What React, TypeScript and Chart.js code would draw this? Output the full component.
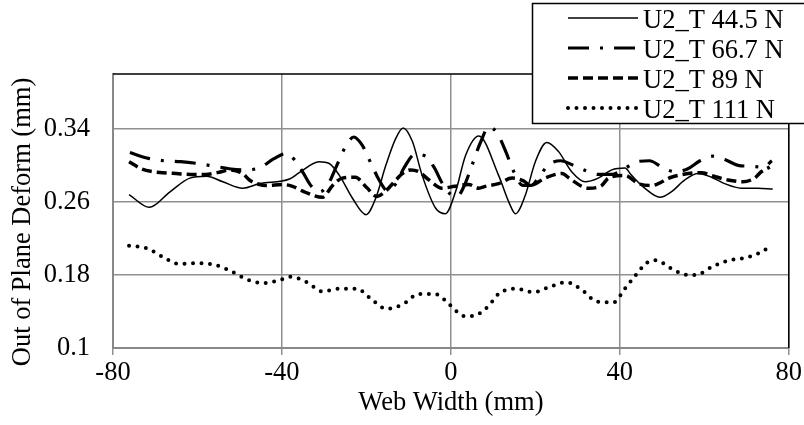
import { useEffect, useRef } from "react";
import { Chart, registerables } from "chart.js";

Chart.register(...registerables);

const seriesLabels = ["U2_T 44.5 N", "U2_T 66.7 N", "U2_T 89 N", "U2_T 111 N"];
const xAxisTitle = "Web Width (mm)";
const yAxisTitle = "Out of Plane Deform (mm)";

const x445 = [-76.2, -71.4, -66.5, -61.8, -57.9, -54, -49.3, -45.3, -38.2, -35.9, -31.2, -28.8, -26.4, -23.3, -20.1, -17.8, -15.4, -13.1, -11.3, -9.1, -6.8, -3.6, -1.3, 1.1, 3.5, 6.6, 11.3, 13.7, 15.3, 17.6, 20, 22.7, 25.5, 28.6, 31.8, 34.9, 38.1, 41.2, 42.8, 45.9, 49.5, 52.2, 55.4, 58.5, 61.7, 64.8, 68.7, 72.7, 76.2];
const y445 = [0.268, 0.254, 0.271, 0.286, 0.288, 0.282, 0.275, 0.28, 0.285, 0.292, 0.304, 0.302, 0.289, 0.264, 0.246, 0.264, 0.3, 0.329, 0.341, 0.326, 0.289, 0.253, 0.247, 0.271, 0.311, 0.332, 0.289, 0.26, 0.247, 0.267, 0.304, 0.325, 0.315, 0.293, 0.282, 0.286, 0.295, 0.297, 0.289, 0.275, 0.265, 0.271, 0.284, 0.291, 0.287, 0.28, 0.275, 0.275, 0.274];

const x667 = [-76, -72, -68, -64, -60, -56, -52, -48, -45, -42, -39, -37, -35, -33, -31, -29, -27, -25, -23, -21, -19, -17, -15, -13, -11, -8.5, -6, -4, -2, 0, 1.5, 3, 5, 7, 9, 11, 13, 15, 17, 19, 21, 23, 26, 29, 32, 35, 38, 41, 44, 47, 50, 53, 56, 59, 62, 65, 68, 71, 74, 76];
const y667 = [0.314, 0.308, 0.305, 0.304, 0.302, 0.299, 0.296, 0.295, 0.298, 0.307, 0.313, 0.306, 0.292, 0.277, 0.271, 0.28, 0.3, 0.32, 0.331, 0.322, 0.303, 0.284, 0.272, 0.28, 0.298, 0.312, 0.31, 0.298, 0.28, 0.268, 0.266, 0.276, 0.3, 0.325, 0.342, 0.335, 0.315, 0.292, 0.278, 0.278, 0.288, 0.3, 0.305, 0.3, 0.294, 0.29, 0.29, 0.296, 0.304, 0.305, 0.298, 0.293, 0.296, 0.305, 0.31, 0.306, 0.3, 0.299, 0.298, 0.305];

const x89 = [-76.2, -73.2, -70.6, -68.3, -65, -61.5, -58, -55.3, -52.2, -49.3, -47.7, -45.3, -43.7, -39.8, -37.5, -34.7, -30.4, -28, -25.7, -22.6, -20, -17.5, -15.4, -13, -11.5, -9.5, -7.6, -5.2, -2.1, 0.9, 4.2, 6.6, 8.2, 11.3, 14.5, 17.2, 18.8, 22.3, 26.3, 28, 31, 32.6, 35.7, 37.3, 41.2, 44.4, 47.5, 52.2, 56.2, 59.3, 62.3, 65.6, 69.1, 71.9, 73.5, 75.5];
const y89 = [0.304, 0.296, 0.293, 0.292, 0.291, 0.29, 0.29, 0.292, 0.295, 0.291, 0.284, 0.279, 0.278, 0.279, 0.277, 0.271, 0.265, 0.278, 0.286, 0.287, 0.276, 0.266, 0.272, 0.284, 0.291, 0.295, 0.293, 0.284, 0.275, 0.277, 0.279, 0.275, 0.277, 0.28, 0.286, 0.283, 0.278, 0.286, 0.291, 0.286, 0.277, 0.275, 0.278, 0.286, 0.289, 0.28, 0.278, 0.287, 0.291, 0.292, 0.288, 0.284, 0.282, 0.286, 0.293, 0.298];

const x111 = [-76.2, -71.9, -68.3, -64.4, -60.1, -55.9, -52.0, -48.2, -44.2, -40.1, -38.1, -34.1, -30.4, -26.3, -22.3, -18.7, -15.3, -11.3, -7.7, -3.6, -0.2, 3.2, 5.0, 8.7, 11.5, 15.4, 19.5, 23.4, 27.4, 31.2, 34.5, 38.5, 41.2, 43.8, 46.6, 48.6, 52.2, 56.0, 58.0, 61.9, 65.8, 69.9, 73.9, 75.7];
const y111 = [0.212, 0.209, 0.2, 0.192, 0.193, 0.191, 0.184, 0.175, 0.171, 0.175, 0.178, 0.172, 0.162, 0.165, 0.165, 0.153, 0.143, 0.148, 0.159, 0.159, 0.147, 0.135, 0.135, 0.145, 0.16, 0.165, 0.161, 0.167, 0.172, 0.163, 0.151, 0.15, 0.165, 0.18, 0.194, 0.196, 0.187, 0.18, 0.18, 0.189, 0.196, 0.199, 0.206, 0.212];

const xTicks = [-80, -40, 0, 40, 80];
const yTicks = [0.1, 0.18, 0.26, 0.34];

const FONT = "'Liberation Serif', 'Times New Roman', Times, serif";
const FONT_SIZE = 26.5;

const pts = (xs: number[], ys: number[]) => xs.map((x, i) => ({ x, y: ys[i] }));

const framePlugin = {
  id: "plotFrame",
  afterDraw(chart: any) {
    const { ctx, chartArea } = chart;
    ctx.save();
    ctx.strokeStyle = "#000";
    ctx.lineWidth = 1.5;
    ctx.beginPath();
    ctx.moveTo(chartArea.left, chartArea.top);
    ctx.lineTo(chartArea.right, chartArea.top);
    ctx.lineTo(chartArea.right, chartArea.bottom);
    ctx.stroke();
    // y axis title
    ctx.translate(23, 222);
    ctx.rotate(-Math.PI / 2);
    ctx.fillStyle = "#000";
    ctx.font = `${FONT_SIZE}px ${FONT}`;
    ctx.textAlign = "center";
    ctx.textBaseline = "middle";
    ctx.fillText(yAxisTitle, 0, 0);
    ctx.restore();
  },
};

const legendPlugin = {
  id: "boxLegend",
  afterDraw(chart: any) {
    const ctx = chart.ctx;
    const bx = 532.5, by = 3.5, bw = 320, bh = 120;
    ctx.save();
    ctx.fillStyle = "#fff";
    ctx.fillRect(bx, by, bw, bh);
    ctx.strokeStyle = "#000";
    ctx.lineWidth = 1.5;
    ctx.setLineDash([]);
    ctx.strokeRect(bx, by, bw, bh);
    chart.data.datasets.forEach((ds: any, i: number) => {
      const y = 18 + 30 * i;
      ctx.beginPath();
      ctx.setLineDash(ds.borderDash || []);
      ctx.lineWidth = ds.borderWidth;
      ctx.lineCap = ds.borderCapStyle || "butt";
      ctx.strokeStyle = ds.borderColor;
      ctx.moveTo(568, y);
      ctx.lineTo(638, y);
      ctx.stroke();
      ctx.setLineDash([]);
      ctx.fillStyle = "#000";
      ctx.font = `${FONT_SIZE}px ${FONT}`;
      ctx.textBaseline = "alphabetic";
      ctx.textAlign = "left";
      ctx.fillText(ds.label, 643, y + 9.5);
    });
    ctx.restore();
  },
};

export default function App() {
  const ref = useRef<HTMLCanvasElement | null>(null);

  useEffect(() => {
    if (!ref.current) return;
    const chart = new Chart(ref.current, {
      type: "line",
      data: {
        datasets: [
          {
            label: seriesLabels[0],
            data: pts(x445, y445),
            borderColor: "#000",
            borderWidth: 1.5,
            borderDash: [],
            pointRadius: 0,
            cubicInterpolationMode: "monotone",
          },
          {
            label: seriesLabels[1],
            data: pts(x667, y667),
            borderColor: "#000",
            borderWidth: 3.2,
            borderDash: [21, 11, 3, 11],
            pointRadius: 0,
            cubicInterpolationMode: "monotone",
          },
          {
            label: seriesLabels[2],
            data: pts(x89, y89),
            borderColor: "#000",
            borderWidth: 3.5,
            borderDash: [10, 5],
            pointRadius: 0,
            cubicInterpolationMode: "monotone",
          },
          {
            label: seriesLabels[3],
            data: pts(x111, y111),
            borderColor: "#000",
            borderWidth: 4,
            borderDash: [0, 8.5],
            borderCapStyle: "round",
            pointRadius: 0,
            cubicInterpolationMode: "monotone",
          },
        ] as any,
      },
      options: {
        animation: false,
        responsive: true,
        maintainAspectRatio: false,
        layout: { padding: { left: 0, right: 13, top: 74, bottom: 0 } },
        plugins: {
          legend: { display: false },
          tooltip: { enabled: false },
        },
        scales: {
          x: {
            type: "linear",
            min: -80,
            max: 80,
            afterFit: (s: any) => {
              s.height = 77;
            },
            afterBuildTicks: (s: any) => {
              s.ticks = xTicks.map((v) => ({ value: v }));
            },
            ticks: {
              color: "#000",
              font: { family: FONT, size: FONT_SIZE },
              padding: 2,
              maxRotation: 0,
              autoSkip: false,
              callback: (v: any) => String(v),
            },
            grid: {
              color: "#909090",
              lineWidth: 1.5,
              drawTicks: true,
              tickLength: 7,
            },
            border: { color: "#888", width: 2 },
            title: {
              display: true,
              text: xAxisTitle,
              color: "#000",
              font: { family: FONT, size: FONT_SIZE },
              padding: { top: 0, bottom: 6 },
            },
          },
          y: {
            type: "linear",
            min: 0.1,
            max: 0.4,
            afterFit: (s: any) => {
              s.width = 113;
            },
            afterBuildTicks: (s: any) => {
              s.ticks = yTicks.map((v) => ({ value: v }));
            },
            ticks: {
              color: "#000",
              font: { family: FONT, size: FONT_SIZE },
              padding: 23,
              autoSkip: false,
              callback: (v: any) => String(Number(Number(v).toFixed(2))),
            },
            grid: {
              color: "#909090",
              lineWidth: 1.5,
              drawTicks: false,
            },
            border: { color: "#888", width: 2 },
            title: { display: false },
          },
        },
      },
      plugins: [framePlugin, legendPlugin],
    });
    return () => chart.destroy();
  }, []);

  return (
    <div style={{ position: "absolute", left: 0, top: 0, width: 804, height: 425 }}>
      <canvas ref={ref} />
    </div>
  );
}
